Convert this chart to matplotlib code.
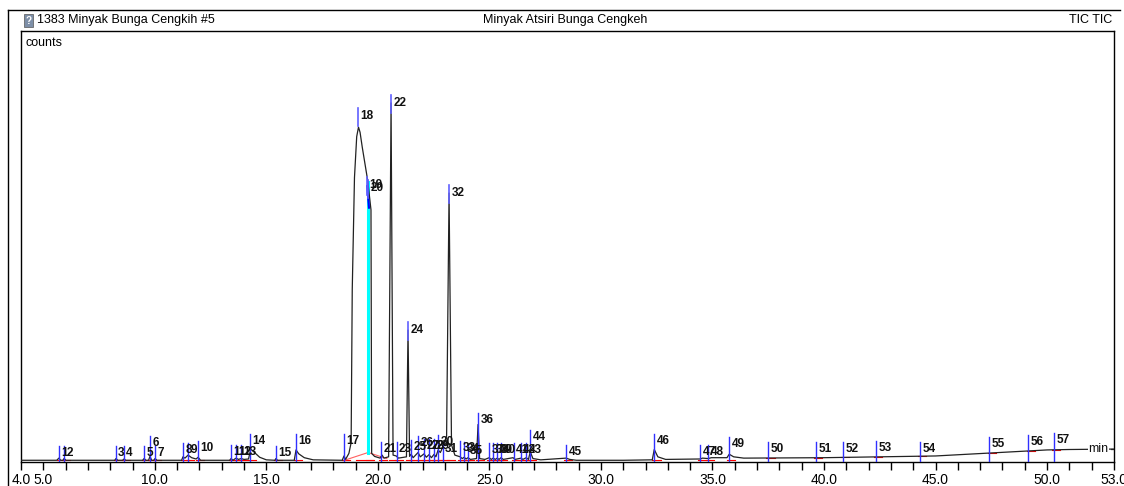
import numpy as np
import matplotlib
matplotlib.use("Agg")
import matplotlib.pyplot as plt
from matplotlib.patches import Rectangle
from matplotlib.lines import Line2D

plt.rcParams['font.family'] = ['Liberation Sans', 'DejaVu Sans']

# chromatogram trace (min, counts in % of full scale)
trace_t = [4.0, 5.6, 5.7, 5.78, 5.88, 5.93, 6.02, 8.2, 8.26, 8.34, 8.55, 8.62, 8.7,
           9.45, 9.52, 9.6, 9.72, 9.78, 9.86, 9.95, 10.01, 10.1,
           11.2, 11.26, 11.35, 11.49, 11.65, 11.85, 11.94, 12.05,
           13.35, 13.42, 13.5, 13.64, 13.75, 13.87, 14.0, 14.2, 14.3, 14.45, 14.7, 15.0,
           15.38, 15.43, 15.5, 16.25, 16.33, 16.45, 16.7, 17.1,
           18.4, 18.48, 18.55, 18.7, 18.8, 18.85, 18.95, 19.05, 19.13, 19.2, 19.3,
           19.54, 19.69, 19.72,
           19.85, 20.1, 20.19, 20.27, 20.48, 20.59, 20.68, 20.82, 20.92,
           21.28, 21.35, 21.42, 21.49, 21.58, 21.8, 21.9, 22.07, 22.17, 22.29, 22.4,
           22.52, 22.6, 22.7, 22.8, 22.92, 23.08, 23.19, 23.3, 23.45, 23.69, 23.78,
           23.87, 23.95, 24.04, 24.15, 24.42, 24.49, 24.56, 24.8, 24.99, 25.08, 25.17,
           25.26, 25.35, 25.43, 25.52, 25.62, 26.06, 26.15, 26.42, 26.5, 26.65, 26.75,
           26.83, 26.95, 27.3, 28.44, 28.6, 28.9, 31.0, 32.3, 32.39, 32.55, 32.9,
           34.45, 34.55, 34.81, 34.95, 35.65, 35.75, 35.95, 36.4, 40.0, 45.0, 47.5,
           50.0, 51.0, 53.0]
trace_y = [0.4, 0.4, 0.9, 0.4, 0.4, 0.8, 0.4, 0.4, 0.8, 0.4, 0.4, 0.7, 0.4,
           0.4, 0.8, 0.4, 0.4, 1.3, 0.4, 0.4, 0.8, 0.4,
           0.4, 1.2, 0.9, 1.6, 1.0, 0.7, 1.1, 0.4,
           0.4, 0.8, 0.4, 0.9, 0.6, 0.8, 0.6, 0.7, 3.0, 2.3, 1.1, 0.5,
           0.4, 0.8, 0.4, 0.4, 2.8, 1.9, 1.0, 0.5,
           0.4, 1.4, 0.6, 2.0, 4.5, 40.0, 66.0, 75.5, 77.7, 76.5, 73.0,
           65.4, 58.5, 2.0,
           1.3, 0.9, 1.6, 0.9, 1.2, 83.3, 1.6, 1.4, 0.9,
           1.2, 30.6, 1.3, 1.8, 1.0, 2.2, 1.2, 1.9, 1.1, 1.7, 1.0,
           1.8, 1.2, 2.8, 2.2, 3.6, 6.0, 62.4, 4.0, 1.6, 1.2, 0.8,
           1.1, 0.7, 1.0, 0.6, 0.8, 8.7, 0.8, 0.6, 1.0, 0.6, 0.9,
           0.6, 0.9, 0.6, 1.0, 0.6, 1.0, 0.6, 0.9, 0.6, 1.0, 0.6,
           2.4, 0.8, 0.5, 0.9, 0.6, 0.4, 0.4, 0.5, 2.9, 1.2, 0.6,
           0.7, 0.9, 0.8, 1.0, 1.0, 1.8, 1.2, 0.9, 1.0, 1.4, 2.1,
           2.8, 2.9, 3.0]

# peak markers: retention time and label height
peak_ids = list(range(1, 58))
peak_rt = [5.70, 5.93, 8.26, 8.62, 9.52, 9.78, 10.01, 11.26, 11.49, 11.94,
           13.42, 13.64, 13.87, 14.27, 15.43, 16.33, 18.48, 19.11, 19.52, 19.56,
           20.15, 20.59, 20.85, 21.35, 21.49, 21.80, 22.07, 22.29, 22.52, 22.70,
           22.92, 23.19, 23.69, 23.87, 24.04, 24.49, 24.99, 25.17, 25.35, 25.52,
           26.10, 26.42, 26.65, 26.83, 28.44, 32.39, 34.45, 34.81, 35.75, 37.50,
           39.65, 40.86, 42.34, 44.31, 47.41, 49.16, 50.32]
label_y = [2.1, 2.1, 2.1, 2.1, 2.1, 4.4, 2.1, 2.8, 2.8, 3.2,
           2.3, 2.3, 2.3, 4.9, 2.1, 4.9, 4.9, 80.3, 64.3, 63.6,
           3.0, 83.3, 3.0, 30.6, 3.5, 4.4, 3.7, 3.7, 3.7, 4.6,
           3.0, 62.4, 3.2, 3.0, 2.6, 9.7, 2.8, 2.8, 2.8, 2.8,
           2.8, 2.8, 2.8, 5.8, 2.3, 4.9, 2.3, 2.3, 4.2, 3.0,
           3.0, 3.0, 3.2, 3.0, 4.2, 4.6, 5.1]

# integration baseline under the big 18/19/20 cluster
cluster_t = [18.5, 19.56, 20.4]
cluster_y = [0.4, 2.2, 0.8]

major_labels = [4.0, 5.0, 10.0, 15.0, 20.0, 25.0, 30.0, 35.0, 40.0, 45.0, 50.0, 53.0]

W, H = 1124, 486
fig = plt.figure(figsize=(W / 100, H / 100), dpi=100)
ax = fig.add_axes([21 / W, (H - 462) / H, (1114 - 21) / W, (462 - 31) / H])

ax.plot(trace_t, trace_y, color='#222222', lw=0.9, zorder=3)

# red integration baselines
for t in peak_rt:
    b = np.interp(t, trace_t, trace_y) if t > 36 else 0.4
    ax.plot([t - 0.08, t + 0.28], [min(b, 3.0), min(b, 3.0)], color='red', lw=0.8, zorder=2)
ax.plot(cluster_t, cluster_y, color='#ff6060', lw=0.8, zorder=2)

# cyan split line between 18 and 19/20
ax.plot([19.56, 19.56], [2.2, 65.0], color='cyan', lw=2.2, zorder=2)
ax.plot([19.52, 19.6], [64.0, 59.0], color='blue', lw=1.5, zorder=4)

# blue markers and labels
for pid, t, ly in zip(peak_ids, peak_rt, label_y):
    if ly < 12:
        ax.plot([t, t], [0.2, ly + 1.6], color='#3030ff', lw=1.0, zorder=4)
    else:
        ax.plot([t, t], [ly - 2.4, ly + 1.8], color='#6060ff', lw=1.2, zorder=4)
    ax.text(t + 0.1, ly, str(pid), fontsize=8.5, fontweight='bold',
            va='center', ha='left', color='#111111', zorder=5)

ax.text(52.3, 3.1, 'min', fontsize=9, va='center', ha='center', color='#111111',
        bbox=dict(facecolor='white', edgecolor='none', pad=0.5), zorder=4)
ax.plot([52.85, 53.0], [3.0, 3.0], color='#222222', lw=0.9, zorder=5)

ax.set_xlim(4.0, 53.0)
ax.set_ylim(0, 100)
ax.set_xticks(np.arange(4, 54, 1.0))
ax.set_xticklabels(['%.1f' % v if v in major_labels else '' for v in np.arange(4, 54, 1.0)])
ax.tick_params(axis='x', direction='out', length=6, width=1, labelsize=10, pad=2)
ax.set_yticks([])
for s in ax.spines.values():
    s.set_linewidth(1.0)
    s.set_color('black')
ax.text(0.004, 0.985, 'counts', transform=ax.transAxes, fontsize=9, va='top', ha='left')

# header strip
fig.add_artist(Line2D([8 / W, 1120 / W], [1 - 10 / H, 1 - 10 / H], color='black', lw=1.0))
fig.add_artist(Line2D([8 / W, 8 / W], [1 - 10 / H, 0], color='black', lw=1.0))
fig.add_artist(Rectangle((24 / W, 1 - 27 / H), 9 / W, 13 / H, facecolor='#7d8fa8',
                         edgecolor='#555555', lw=0.5))
fig.text(28.5 / W, 1 - 21 / H, '?', fontsize=7, color='white', ha='center', va='center',
         fontweight='bold')
fig.text(37 / W, 1 - 20 / H, '1383 Minyak Bunga Cengkih #5', fontsize=9, va='center', ha='left')
fig.text(565 / W, 1 - 20 / H, 'Minyak Atsiri Bunga Cengkeh', fontsize=9, va='center', ha='center')
fig.text(1112 / W, 1 - 20 / H, 'TIC TIC', fontsize=9, va='center', ha='right')

fig.savefig('out.png', dpi=100)
